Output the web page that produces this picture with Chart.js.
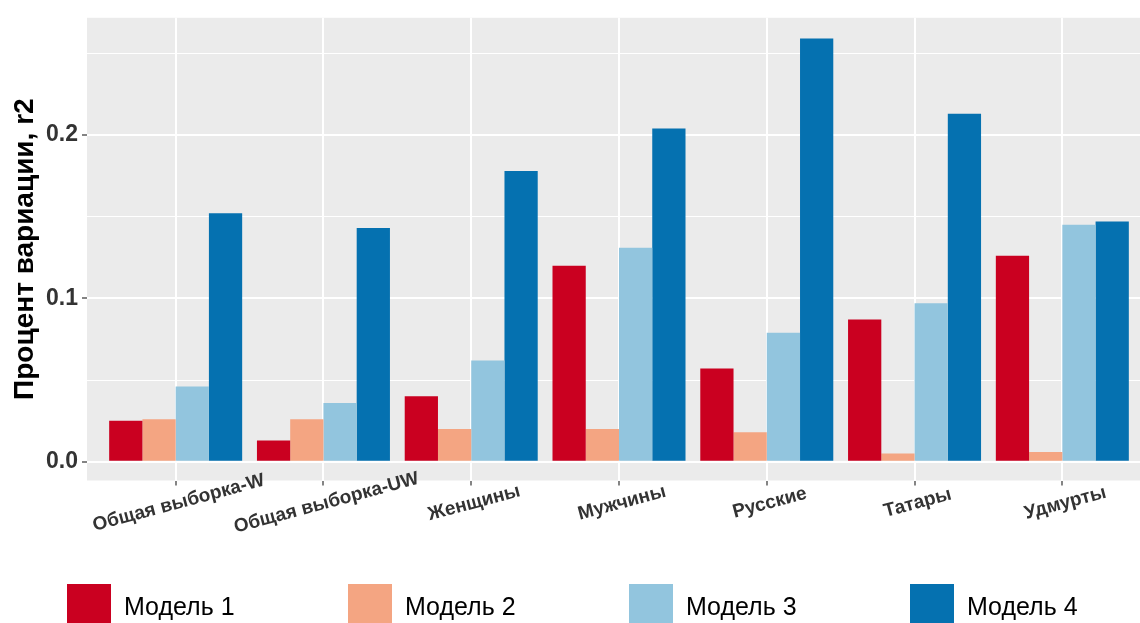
<!DOCTYPE html>
<html>
<head>
<meta charset="utf-8">
<script src="https://cdn.jsdelivr.net/npm/chart.js@4"></script>
<style>
  html, body { margin: 0; padding: 0; background: #fff; overflow: hidden; }
  canvas { display: block; }
</style>
</head>
<body>
<canvas id="chart" width="1160" height="650"></canvas>
<script>
// категории и значения r2 по моделям
const categories = ["Общая выборка-W", "Общая выборка-UW", "Женщины", "Мужчины", "Русские", "Татары", "Удмурты"];
const model1 = [0.025, 0.013, 0.040, 0.120, 0.057, 0.087, 0.126];
const model2 = [0.026, 0.026, 0.020, 0.020, 0.018, 0.005, 0.006];
const model3 = [0.046, 0.036, 0.062, 0.131, 0.079, 0.097, 0.145];
const model4 = [0.152, 0.143, 0.178, 0.204, 0.259, 0.213, 0.147];
const seriesNames = ["Модель 1", "Модель 2", "Модель 3", "Модель 4"];
const yTicks = [0, 0.05, 0.1, 0.15, 0.2, 0.25];
const colors = ["#CA0020", "#F4A582", "#92C5DE", "#0571B0"];

const FONT = '"Liberation Sans", Arial, sans-serif';

function toPoints(values) {
  return values.map((v, i) => ({ x: i, y: v }));
}

function isMajor(v) {
  return Math.round(v * 100) % 10 === 0;
}

// серый фон панели как в ggplot
const panelBg = {
  id: "panelBg",
  beforeDraw(chart) {
    const { ctx, chartArea: a } = chart;
    ctx.save();
    ctx.fillStyle = "#EBEBEB";
    ctx.fillRect(a.left, a.top, a.right - a.left, a.bottom - a.top);
    ctx.restore();
  }
};

// подписи по оси X (повернуты, по центру) и легенда снизу
const extras = {
  id: "extras",
  afterDraw(chart) {
    const { ctx } = chart;
    const xs = chart.scales.x;
    ctx.save();
    ctx.fillStyle = "#333333";
    ctx.font = "bold 19px " + FONT;
    ctx.textAlign = "center";
    ctx.textBaseline = "middle";
    categories.forEach((c, i) => {
      const px = xs.getPixelForValue(i);
      ctx.save();
      ctx.translate(px + 3, 503);
      ctx.rotate(-15 * Math.PI / 180);
      ctx.fillText(c, 0, 0);
      ctx.restore();
    });

    ctx.font = "25px " + FONT;
    ctx.textAlign = "left";
    seriesNames.forEach((name, i) => {
      const x0 = 67 + i * 281;
      ctx.fillStyle = colors[i];
      ctx.fillRect(x0, 584, 44, 46);
      ctx.fillStyle = "#000000";
      ctx.fillText(name, x0 + 57, 608);
    });
    ctx.restore();
  }
};

new Chart(document.getElementById("chart"), {
  type: "bar",
  data: {
    datasets: [
      { label: seriesNames[0], data: toPoints(model1), backgroundColor: colors[0] },
      { label: seriesNames[1], data: toPoints(model2), backgroundColor: colors[1] },
      { label: seriesNames[2], data: toPoints(model3), backgroundColor: colors[2] },
      { label: seriesNames[3], data: toPoints(model4), backgroundColor: colors[3] }
    ]
  },
  options: {
    responsive: false,
    animation: false,
    layout: { padding: { top: 15, right: 9, bottom: 0, left: 0 } },
    datasets: {
      bar: { categoryPercentage: 0.9, barPercentage: 1.0, borderWidth: 0 }
    },
    plugins: {
      legend: { display: false },
      tooltip: { enabled: false }
    },
    scales: {
      x: {
        type: "linear",
        min: -0.6,
        max: 6.6,
        offset: false,
        afterBuildTicks: axis => { axis.ticks = categories.map((c, i) => ({ value: i })); },
        afterFit: axis => { axis.height = 169.5; },
        ticks: { display: false },
        border: { display: false },
        grid: {
          offset: false,
          color: "#FFFFFF",
          lineWidth: 2,
          drawTicks: true,
          tickLength: 5,
          tickColor: "#333333",
          tickWidth: 1.2
        }
      },
      y: {
        min: -0.0115,
        max: 0.2717,
        afterBuildTicks: axis => { axis.ticks = yTicks.map(v => ({ value: v })); },
        afterFit: axis => { axis.width = 87; },
        border: { display: false },
        ticks: {
          padding: 4,
          color: "#333333",
          font: { family: FONT, size: 23, weight: "bold" },
          callback: v => isMajor(v) ? v.toFixed(1) : ""
        },
        grid: {
          color: "#FFFFFF",
          lineWidth: c => isMajor(c.tick.value) ? 2 : 1,
          tickLength: 5,
          tickWidth: 1.2,
          tickColor: c => isMajor(c.tick.value) ? "#333333" : "rgba(0,0,0,0)"
        },
        title: {
          display: true,
          text: "Процент вариации, r2",
          color: "#000000",
          font: { family: FONT, size: 28, weight: "bold" },
          padding: { top: 8, bottom: 4 }
        }
      }
    }
  },
  plugins: [panelBg, extras]
});
</script>
</body>
</html>
